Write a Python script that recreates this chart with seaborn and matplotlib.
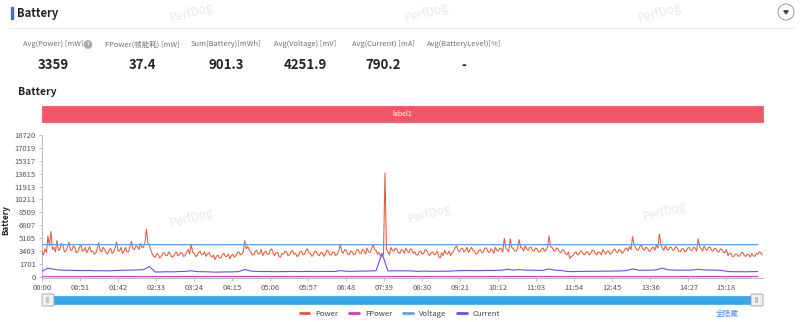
import numpy as np
import pandas as pd
import matplotlib
matplotlib.use("Agg")
import matplotlib.pyplot as plt
from matplotlib.patches import Rectangle, FancyBboxPatch, Ellipse, Polygon
from matplotlib.lines import Line2D
import seaborn as sns

# ---------------- data ----------------
SAMPLE_POWER_S = 2      # power sampled every 2 s
SAMPLE_CURRENT_S = 8    # current sampled every 8 s
SAMPLE_SLOW_S = 80      # voltage / frame power sampled every 80 s
DURATION_S = 967

# one row = 20 s of power samples
power_mw = [
    3300, 2900, 3700, 3200, 5400, 4100, 6000, 3600, 3900, 3300,
    4800, 3500, 3600, 4400, 4200, 3300, 3400, 3900, 4600, 3600,
    3500, 4100, 3900, 3200, 3300, 3800, 4300, 3400, 3500, 3900,
    3200, 3600, 4000, 3300, 3400, 3000, 3100, 3700, 4500, 3500,
    3300, 3900, 3600, 3200, 3000, 3500, 3800, 3100, 3300, 3800,
    4600, 3500, 3400, 3900, 3100, 3400, 3900, 3300, 3300, 4000,
    4700, 3700, 3600, 4100, 4000, 3600, 4400, 3900, 3900, 4500,
    6300, 4500, 4200, 3500, 3000, 2700, 2600, 3100, 2900, 2500,
    2700, 3100, 3200, 2800, 2800, 3300, 3000, 2600, 2700, 3000,
    3300, 2800, 2900, 3200, 3100, 2700, 2800, 3300, 3600, 3000,
    4300, 3300, 3100, 2700, 2800, 3200, 3400, 2900, 3000, 3300,
    2700, 3000, 3200, 2800, 2600, 2900, 2300, 2700, 2900, 2500,
    2500, 2900, 3100, 2700, 2700, 3000, 2400, 2800, 3000, 2600,
    2800, 3200, 3300, 2900, 3000, 3300, 4800, 3700, 4000, 3500,
    3300, 2900, 2900, 3400, 3500, 3000, 3100, 3600, 2800, 3200,
    3400, 3000, 3000, 3500, 3700, 3100, 2800, 3200, 3200, 2700,
    2600, 3100, 3000, 3400, 3300, 2800, 2900, 3300, 3500, 3000,
    3100, 2700, 2800, 3300, 3400, 2900, 3000, 3500, 3700, 3200,
    3100, 2700, 2900, 3400, 3300, 2900, 2800, 3200, 3200, 2700,
    3000, 3500, 3400, 2900, 2900, 3300, 3200, 2800, 3000, 3400,
    4300, 3400, 3100, 3600, 3500, 3000, 2900, 3400, 3300, 2900,
    3000, 3500, 3600, 3100, 3100, 3600, 3400, 3000, 3800, 3300,
    3200, 3700, 4300, 3600, 3500, 3000, 3200, 2800, 2700, 3000,
    13700, 3600, 3300, 2900, 3900, 3500, 3400, 3800, 3600, 3200,
    3100, 3600, 3500, 3100, 3800, 3400, 3200, 3700, 3600, 3100,
    3300, 2900, 2900, 3300, 3400, 3000, 3100, 3600, 3500, 3000,
    2800, 3200, 3300, 2900, 3000, 3400, 2700, 2500, 3200, 2800,
    3500, 3100, 3000, 3400, 2800, 3200, 3400, 3800, 4100, 3500,
    3300, 3700, 3800, 3300, 3500, 3900, 3200, 3600, 3900, 3500,
    3400, 3000, 3100, 3500, 3600, 3200, 3300, 3800, 3800, 3400,
    3200, 3700, 3500, 3100, 3900, 3500, 3400, 3800, 3700, 3300,
    5100, 3800, 3600, 3300, 5000, 3900, 3700, 3400, 3400, 3800,
    4900, 3900, 3800, 3400, 4100, 3700, 3500, 3900, 3900, 3500,
    3400, 3800, 3700, 3300, 3300, 3700, 3800, 3400, 3500, 3900,
    5400, 4000, 3900, 3500, 3400, 3800, 3700, 3300, 3200, 3600,
    3500, 3100, 2900, 3300, 2400, 2700, 2800, 3100, 3300, 2900,
    3000, 3400, 3400, 3000, 2900, 3300, 3300, 2900, 3100, 3500,
    3500, 3100, 2900, 3300, 3200, 2900, 3600, 3300, 3000, 3400,
    3400, 3000, 3100, 3500, 3700, 3300, 3200, 3600, 3500, 3100,
    3300, 3700, 3800, 3400, 4000, 3600, 5300, 4200, 3900, 3500,
    3600, 4000, 4200, 3700, 3500, 3900, 3800, 3400, 3400, 3800,
    3900, 3500, 4200, 3800, 5700, 4300, 3800, 3500, 4100, 3700,
    3500, 3900, 3900, 3500, 3600, 4000, 3800, 3400, 3300, 3700,
    3700, 3300, 3400, 3800, 3900, 3500, 3500, 3900, 3800, 3400,
    5000, 4000, 3700, 3400, 4100, 3700, 3500, 3900, 3900, 3500,
    3400, 3800, 3700, 3300, 3300, 3700, 3600, 3200, 3200, 3600,
    2800, 3100, 3100, 2700, 2700, 3000, 3000, 2700, 2800, 3200,
    3200, 2800, 2700, 3000, 2900, 2600, 3100, 2800, 2700, 3100,
    3000, 3300, 3200, 2900,
]

current_ma = [
    760, 1150, 1000, 900, 880, 860, 840, 830, 850, 800,
    820, 790, 830, 860, 880, 900, 920, 950, 1350, 640,
    650, 680, 660, 700, 720, 800, 690, 680, 660, 620,
    640, 650, 660, 700, 980, 760, 720, 700, 710, 680,
    690, 700, 720, 700, 710, 720, 700, 710, 720, 700,
    820, 740, 730, 750, 760, 780, 800, 3100, 780, 800,
    790, 800, 780, 720, 760, 740, 730, 750, 740, 790,
    820, 830, 840, 820, 840, 850, 860, 870, 1000, 900,
    960, 900, 880, 870, 860, 1050, 880, 840, 720, 690,
    720, 730, 740, 730, 760, 750, 770, 780, 830, 1050,
    880, 870, 880, 920, 1150, 920, 900, 880, 890, 900,
    1000, 920, 900, 880, 850, 700, 680, 680, 670, 690,
    700,
]

voltage_mv = [4262, 4258, 4255, 4254, 4253, 4252, 4251, 4251, 4250, 4250, 4249, 4248, 4247]
fpower_mw = [36, 38, 37, 39, 37, 36, 38, 37, 38, 37, 36, 38, 37]

stat_labels = ["Avg(Power) [mW]", "FPower(帧能耗) [mW]", "Sum(Battery)[mWh]",
               "Avg(Voltage) [mV]", "Avg(Current) [mA]", "Avg(BatteryLevel)[%]"]
stat_values = ["3359", "37.4", "901.3", "4251.9", "790.2", "-"]

y_ticks = [0, 1701, 3403, 5105, 6807, 8509, 10211, 11913, 13615, 15317, 17019, 18720]
x_tick_labels = ["00:00", "00:51", "01:42", "02:33", "03:24", "04:15", "05:06",
                 "05:57", "06:48", "07:39", "08:30", "09:21", "10:12", "11:03",
                 "11:54", "12:45", "13:36", "14:27", "15:18"]
X_TICK_STEP_S = 51

series_names = ["Power", "FPower", "Voltage", "Current"]
series_colors = ["#e4583b", "#d03cbe", "#5aa2f2", "#7a45ee"]

# ---------------- frames ----------------
df_power = pd.DataFrame({"t": np.arange(len(power_mw)) * SAMPLE_POWER_S, "v": power_mw})
df_current = pd.DataFrame({"t": np.arange(len(current_ma)) * SAMPLE_CURRENT_S, "v": current_ma})
df_voltage = pd.DataFrame({"t": np.arange(len(voltage_mv)) * SAMPLE_SLOW_S, "v": voltage_mv})
df_fpower = pd.DataFrame({"t": np.arange(len(fpower_mw)) * SAMPLE_SLOW_S, "v": fpower_mw})

# ---------------- style ----------------
sns.set_theme(style="white")
plt.rcParams["font.family"] = ["Noto Sans CJK SC", "DejaVu Sans"]

W, H = 800, 322
fig = plt.figure(figsize=(W / 100, H / 100), dpi=100)
fig.patch.set_facecolor("white")


def fx(px):
    return px / W


def fy(py):
    return 1 - py / H


def circle(cx, cy, r, **kw):
    return Ellipse((fx(cx), fy(cy)), 2 * r / W, 2 * r / H, transform=fig.transFigure, **kw)


# watermarks
for (wx, wy) in [(192, 13), (427, 13), (660, 13), (192, 218), (430, 214), (665, 212)]:
    fig.text(fx(wx), fy(wy), "PerfDog", color="#e9e9e9", fontsize=8.5,
             rotation=15, ha="center", va="center", zorder=0)

# header
fig.patches.append(Rectangle((fx(11), fy(19)), fx(2), 12 / H, transform=fig.transFigure,
                             color="#3b6cf2", zorder=2))
fig.text(fx(17), fy(13), "Battery", fontsize=8, fontweight="bold", color="#222222",
         ha="left", va="center")
fig.add_artist(Line2D([fx(10), fx(795)], [fy(28), fy(28)], transform=fig.transFigure,
                      color="#ececec", lw=0.8))
fig.patches.append(circle(786, 12, 8, facecolor="white", edgecolor="#9a9a9a", lw=0.7))
fig.patches.append(Polygon([[fx(783.8), fy(10.8)], [fx(788.2), fy(10.8)], [fx(786), fy(13.8)]],
                           closed=True, transform=fig.transFigure, color="#444444"))

# summary stats
stat_centers = [53, 142, 226, 305, 383, 464]
for cx, lab, val in zip(stat_centers, stat_labels, stat_values):
    fig.text(fx(cx), fy(44.5), lab, fontsize=5.4, color="#707070", ha="center", va="center")
    fig.text(fx(cx), fy(65), val, fontsize=9.5, fontweight="bold", color="#222222",
             ha="center", va="center")
fig.patches.append(circle(88, 44.5, 3.6, color="#a8a8a8"))
fig.text(fx(88), fy(44.8), "?", fontsize=4, color="white", ha="center", va="center",
         fontweight="bold")

# section title and label band
fig.text(fx(18), fy(92), "Battery", fontsize=7.5, fontweight="bold", color="#222222",
         ha="left", va="center")
fig.patches.append(Rectangle((fx(42), fy(122)), fx(763 - 42), 16 / H, transform=fig.transFigure,
                             facecolor="#ee5866", edgecolor="#e8485a", lw=0.5))
fig.text(fx(402), fy(114), "label1", fontsize=5, color="white", ha="center", va="center")

# ---------------- chart ----------------
ax = fig.add_axes([fx(42), fy(278), fx(763 - 42), (278 - 135) / H])
frames = [df_power, df_fpower, df_voltage, df_current]
widths = [0.75, 0.8, 0.9, 0.8]
for i, (df, name, col, lw) in enumerate(zip(frames, series_names, series_colors, widths)):
    sns.lineplot(data=df, x="t", y="v", ax=ax, color=col, lw=lw, label=name, legend=False,
                 zorder=3 + i)

ax.set_xlim(0, DURATION_S)
ax.set_ylim(-150, y_ticks[-1])
ax.set_yticks(y_ticks)
ax.set_yticklabels([str(v) for v in y_ticks])
ax.set_xticks([i * X_TICK_STEP_S for i in range(len(x_tick_labels))])
ax.set_xticklabels(x_tick_labels)
ax.set_xlabel("")
ax.set_ylabel("")
for side in ["top", "right"]:
    ax.spines[side].set_visible(False)
for side in ["left", "bottom"]:
    ax.spines[side].set_color("#b8b8b8")
    ax.spines[side].set_linewidth(0.7)
ax.tick_params(axis="both", labelsize=5.5, labelcolor="#555555", color="#b8b8b8",
               length=2.5, width=0.6, pad=2)
ax.tick_params(axis="y", left=True)
ax.tick_params(axis="x", bottom=True)
ax.grid(False)
ax.set_facecolor("none")

fig.text(fx(6), fy(220), "Battery", rotation=90, fontsize=5.8, fontweight="bold",
         color="#222222", ha="center", va="center")

# range slider
fig.patches.append(Rectangle((fx(45), fy(304)), fx(758 - 45), 8 / H, transform=fig.transFigure,
                             facecolor="#33a6ec", edgecolor="#2b98dc", lw=0.4))
for hx in (42, 751):
    fig.patches.append(FancyBboxPatch((fx(hx), fy(306)), fx(12), 12 / H,
                                      boxstyle="round,pad=0,rounding_size=0.002",
                                      transform=fig.transFigure, facecolor="#efefef",
                                      edgecolor="#a0a0a0", lw=0.6))
    fig.text(fx(hx + 6), fy(300), "|||", fontsize=4, color="#777777", ha="center",
             va="center")

# legend
handles = [Line2D([], [], color=c, lw=2) for c in series_colors]
fig.legend(handles, series_names, loc="center", bbox_to_anchor=(fx(400), fy(314)),
           ncol=4, frameon=False, fontsize=5.5, handlelength=1.2, handletextpad=0.8,
           columnspacing=1.5, labelcolor="#444444")
fig.text(fx(727), fy(314), "全隐藏", fontsize=5.5, color="#4a86f0", ha="center", va="center")

fig.savefig("out.png", dpi=100, facecolor="white")
